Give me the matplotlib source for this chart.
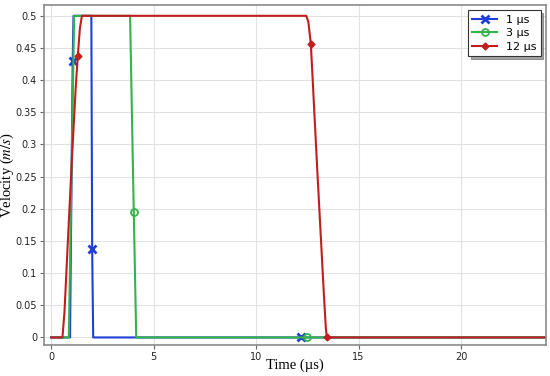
import matplotlib; matplotlib.use("Agg")
import matplotlib.pyplot as plt
from matplotlib.ticker import FuncFormatter

# values (time in us, velocity in m/s)
t_1us = [0, 0.92, 1.05, 1.09, 1.96, 2.0, 2.05, 12.2, 24.2]
v_1us = [0, 0, 0.43, 0.5, 0.5, 0.138, 0, 0, 0]
mk_1us = [2, 5, 7]

t_3us = [0, 0.86, 1.12, 3.85, 4.03, 4.15, 12.5, 24.2]
v_3us = [0, 0, 0.5, 0.5, 0.195, 0, 0, 0]
mk_3us = [4, 6]

t_12us = [0, 0.55, 0.65, 0.8, 1.0, 1.2, 1.3, 1.4, 1.5, 12.45, 12.55, 12.67, 13.0, 13.3, 13.4, 13.45, 24.2]
v_12us = [0, 0, 0.04, 0.14, 0.27, 0.39, 0.438, 0.48, 0.5, 0.5, 0.49, 0.456, 0.25, 0.07, 0.015, 0, 0]
mk_12us = [6, 11, 15]

plt.rcParams["mathtext.fontset"] = "stix"

fig = plt.figure(figsize=(5.5, 3.76), dpi=100)
ax = fig.add_axes([0.08, 0.082, 0.913, 0.905])

ax.plot(t_1us, v_1us, color="#1f3fd6", lw=1.5, marker="x", ms=6, mew=2,
        markevery=mk_1us, label="1 µs")
ax.plot(t_3us, v_3us, color="#35b24a", lw=1.5, marker="o", ms=5, mfc="none", mew=1.3,
        markevery=mk_3us, label="3 µs")
ax.plot(t_12us, v_12us, color="#c21d1d", lw=1.5, marker="D", ms=3.5,
        markevery=mk_12us, label="12 µs")

ax.set_xlim(-0.35, 24.15)
ax.set_ylim(-0.012, 0.517)
ax.set_xticks([0, 5, 10, 15, 20])
ax.set_yticks([0, 0.05, 0.1, 0.15, 0.2, 0.25, 0.3, 0.35, 0.4, 0.45, 0.5])
ax.yaxis.set_major_formatter(FuncFormatter(lambda v, p: "%g" % round(v, 2)))
ax.tick_params(labelsize=7, length=3, pad=2, color="#666666", labelcolor="#222222")
ax.grid(True, color="#e2e2e2", lw=0.8)
for s in ax.spines.values():
    s.set_color("#8a8a8a")
    s.set_linewidth(1.2)

ax.set_xlabel("Time (µs)", family="Liberation Serif", fontsize=10.5)
ax.set_ylabel("Velocity ($m/s$)", family="Liberation Serif", fontsize=10.5)
ax.xaxis.set_label_coords(0.5, -0.04)
ax.yaxis.set_label_coords(-0.056, 0.5)

leg = ax.legend(loc="upper right", fontsize=8, fancybox=False, shadow=True,
                edgecolor="#333333", handlelength=2.2, borderpad=0.4, labelspacing=0.3)
leg.get_frame().set_linewidth(0.8)

plt.savefig("out.png", dpi=100)
plt.close()
